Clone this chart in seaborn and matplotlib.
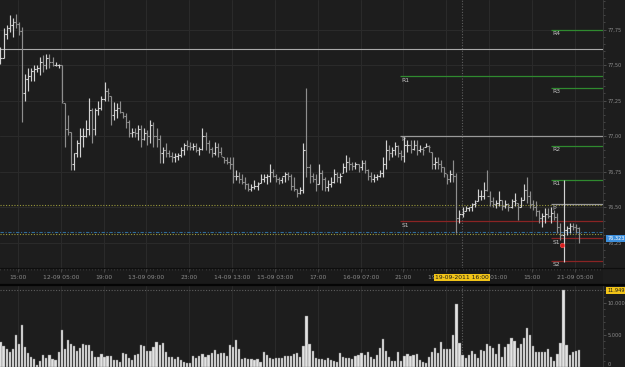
import numpy as np
import pandas as pd
import matplotlib
matplotlib.use("Agg")
import matplotlib.pyplot as plt
import matplotlib.transforms as mtransforms
from matplotlib.lines import Line2D
from matplotlib.ticker import MultipleLocator
import seaborn as sns

# ---------------- data ----------------
highs = [
    77.63, 77.76, 77.78, 77.85, 77.83, 77.86, 77.80, 77.77, 77.44, 77.48,
    77.48, 77.50, 77.50, 77.56, 77.57, 77.58, 77.58, 77.56, 77.52, 77.51,
    77.50, 77.23, 77.15, 77.03, 76.88, 76.97, 77.06, 77.06, 77.11, 77.27,
    77.20, 77.20, 77.25, 77.28, 77.38, 77.34, 77.28, 77.24, 77.23, 77.25,
    77.17, 77.16, 77.11, 77.06, 77.06, 77.08, 77.08, 77.06, 77.04, 77.11,
    77.10, 77.06, 77.01, 76.92, 76.95, 76.90, 76.89, 76.88, 76.88, 76.92,
    76.95, 76.97, 76.96, 76.95, 76.95, 76.92, 77.06, 77.03, 76.97, 76.92,
    76.96, 76.95, 76.92, 76.85, 76.85, 76.85, 76.85, 76.76, 76.75, 76.73,
    76.71, 76.67, 76.66, 76.69, 76.68, 76.73, 76.73, 76.73, 76.80, 76.77,
    76.73, 76.71, 76.71, 76.75, 76.75, 76.73, 76.71, 76.63, 76.64, 76.95,
    77.34, 76.80, 76.74, 76.73, 76.80, 76.76, 76.71, 76.69, 76.71, 76.77,
    76.75, 76.74, 76.81, 76.87, 76.85, 76.82, 76.82, 76.80, 76.83, 76.83,
    76.77, 76.75, 76.73, 76.73, 76.76, 76.85, 76.97, 76.94, 76.92, 76.96,
    76.94, 76.90, 76.99, 76.97, 76.97, 76.97, 76.97, 76.94, 76.92, 76.95,
    76.94, 76.89, 76.85, 76.85, 76.83, 76.78, 76.73, 76.76, 76.83, 76.74,
    76.48, 76.50, 76.51, 76.50, 76.53, 76.55, 76.63, 76.62, 76.68, 76.76,
    76.61, 76.57, 76.55, 76.61, 76.55, 76.55, 76.53, 76.56, 76.60, 76.53,
    76.57, 76.66, 76.71, 76.61, 76.55, 76.54, 76.48, 76.46, 76.49, 76.49,
    76.50, 76.48, 76.46, 76.39, 76.69, 76.37, 76.39, 76.39, 76.38, 76.36,
]
lows = [
    77.51, 77.55, 77.68, 77.73, 77.70, 77.76, 77.71, 77.10, 77.25, 77.32,
    77.39, 77.39, 77.45, 77.43, 77.45, 77.47, 77.48, 77.49, 77.49, 77.48,
    77.23, 76.92, 77.01, 76.76, 76.76, 76.85, 76.85, 76.92, 76.99, 77.01,
    76.95, 77.01, 77.15, 77.18, 77.25, 77.25, 77.08, 77.11, 77.13, 77.16,
    77.13, 77.06, 76.99, 76.99, 76.99, 76.97, 76.92, 76.97, 76.94, 76.95,
    76.92, 76.92, 76.81, 76.81, 76.85, 76.85, 76.82, 76.82, 76.83, 76.85,
    76.87, 76.90, 76.90, 76.90, 76.89, 76.87, 76.90, 76.90, 76.88, 76.85,
    76.87, 76.85, 76.87, 76.81, 76.80, 76.77, 76.67, 76.69, 76.67, 76.66,
    76.63, 76.61, 76.61, 76.63, 76.62, 76.67, 76.68, 76.66, 76.68, 76.71,
    76.68, 76.66, 76.67, 76.68, 76.69, 76.62, 76.61, 76.57, 76.59, 76.60,
    76.71, 76.67, 76.68, 76.61, 76.66, 76.62, 76.61, 76.61, 76.64, 76.67,
    76.68, 76.67, 76.74, 76.75, 76.76, 76.76, 76.77, 76.75, 76.76, 76.74,
    76.69, 76.68, 76.68, 76.69, 76.71, 76.71, 76.77, 76.83, 76.85, 76.87,
    76.85, 76.83, 76.82, 76.89, 76.88, 76.90, 76.87, 76.89, 76.87, 76.92,
    76.89, 76.77, 76.77, 76.77, 76.75, 76.71, 76.66, 76.68, 76.68, 76.32,
    76.39, 76.43, 76.47, 76.47, 76.47, 76.50, 76.54, 76.55, 76.56, 76.61,
    76.51, 76.50, 76.49, 76.51, 76.48, 76.49, 76.47, 76.49, 76.51, 76.41,
    76.50, 76.55, 76.53, 76.49, 76.48, 76.44, 76.39, 76.36, 76.39, 76.42,
    76.39, 76.41, 76.32, 76.27, 76.11, 76.30, 76.32, 76.34, 76.32, 76.25,
]
closes = [
    77.55, 77.72, 77.76, 77.78, 77.80, 77.79, 77.74, 77.30, 77.40, 77.42,
    77.46, 77.47, 77.48, 77.52, 77.50, 77.55, 77.52, 77.50, 77.50, 77.50,
    77.25, 77.05, 77.03, 76.80, 76.88, 76.95, 77.00, 77.00, 77.05, 77.18,
    77.05, 77.18, 77.20, 77.26, 77.32, 77.30, 77.15, 77.18, 77.20, 77.17,
    77.14, 77.10, 77.02, 77.03, 77.02, 77.05, 76.98, 77.02, 77.00, 77.08,
    77.00, 76.98, 76.88, 76.90, 76.88, 76.86, 76.85, 76.86, 76.87, 76.90,
    76.94, 76.93, 76.92, 76.93, 76.90, 76.91, 77.00, 76.95, 76.91, 76.88,
    76.92, 76.89, 76.86, 76.83, 76.82, 76.80, 76.72, 76.72, 76.70, 76.68,
    76.66, 76.63, 76.64, 76.65, 76.66, 76.70, 76.71, 76.72, 76.75, 76.72,
    76.70, 76.69, 76.72, 76.73, 76.72, 76.65, 76.63, 76.60, 76.62, 76.90,
    76.78, 76.72, 76.70, 76.66, 76.74, 76.70, 76.64, 76.66, 76.68, 76.73,
    76.71, 76.72, 76.78, 76.82, 76.80, 76.79, 76.80, 76.78, 76.81, 76.76,
    76.72, 76.70, 76.71, 76.72, 76.74, 76.80, 76.90, 76.88, 76.90, 76.93,
    76.88, 76.86, 76.94, 76.94, 76.91, 76.94, 76.90, 76.91, 76.90, 76.93,
    76.92, 76.80, 76.82, 76.80, 76.78, 76.74, 76.70, 76.73, 76.72, 76.42,
    76.45, 76.46, 76.49, 76.50, 76.52, 76.53, 76.58, 76.58, 76.62, 76.58,
    76.54, 76.52, 76.53, 76.55, 76.51, 76.52, 76.50, 76.54, 76.55, 76.50,
    76.55, 76.62, 76.58, 76.52, 76.50, 76.47, 76.42, 76.44, 76.45, 76.44,
    76.46, 76.43, 76.36, 76.30, 76.34, 76.35, 76.37, 76.36, 76.35, 76.32,
]
volumes = [
    3960, 3280, 2810, 2400, 2760, 5050, 3590, 6550, 3070, 2130,
    1510, 1200, 300, 990, 1820, 1460, 1820, 1200, 1150, 2340,
    5770, 2860, 4160, 3540, 3280, 2550, 2960, 3540, 3430, 3430,
    2550, 1560, 1510, 1980, 1610, 1770, 1720, 1040, 1090, 780,
    2130, 1980, 1460, 1090, 1820, 1980, 3430, 3280, 2500, 2500,
    3170, 3850, 3430, 3690, 2400, 1560, 1560, 1200, 1510, 1150,
    830, 680, 620, 1660, 1400, 1720, 1980, 1510, 1870, 2240,
    2650, 1980, 2130, 2130, 1770, 3380, 3070, 4160, 2760, 1250,
    1400, 1250, 1200, 1150, 1250, 730, 2340, 1920, 1400, 1300,
    1400, 1460, 1400, 1660, 1720, 1770, 1980, 2130, 1560, 3280,
    7960, 3590, 2500, 1350, 1250, 1300, 1090, 1400, 1150, 940,
    830, 2130, 1610, 1400, 1350, 1200, 1660, 1870, 2180, 1820,
    2340, 1510, 1200, 1870, 2910, 4370, 2440, 1610, 990, 940,
    2290, 940, 1660, 2080, 1720, 1870, 1980, 1150, 830, 680,
    1510, 2290, 2910, 2240, 3850, 2810, 2810, 2810, 5040, 9780,
    3800, 1870, 1400, 1870, 2500, 1980, 1400, 2700, 2440, 3640,
    3330, 3020, 1980, 3590, 1560, 3170, 3640, 4470, 4060, 2970,
    3640, 4470, 6030, 4990, 3280, 2290, 2290, 2290, 2290, 2760,
    1560, 990, 1980, 3800, 11949, 3430, 1870, 2400, 2500, 2650,
]

time_labels = ["15:00", "12-09 05:00", "19:00", "13-09 09:00", "23:00",
               "14-09 13:00", "15-09 03:00", "17:00", "16-09 07:00", "21:00",
               "19-09 11:00", "20-09 01:00", "15:00", "21-09 05:00"]
price_ticks = [76.25, 76.50, 76.75, 77.00, 77.25, 77.50, 77.75]
volume_ticks = [0, 5000, 10000]
volume_tick_labels = ["0", "5.000", "10.000"]

prev_pivot_names = ["R1", "P", "S1"]
prev_pivot_values = [77.42, 77.00, 76.40]
pivot_names = ["R4", "R3", "R2", "R1", "P", "S1", "S2"]
pivot_values = [77.75, 77.34, 76.93, 76.69, 76.52, 76.28, 76.12]
reference_level = 77.61
yellow_levels = [76.515, 76.31]
last_price = 76.323
last_price_label = "76,323"
signal_price = 76.23
cursor_label = "19-09-2011 16:00"
cursor_volume = 11949
cursor_volume_label = "11.949"

# ---------------- layout / style constants ----------------
W, H = 625, 367
BG = "#1d1d1d"
GRID = "#2b2b2b"
TXT = "#8c8c8c"
FS = 4.3
FS_R = 3.6
first_tick = 5.7       # bar position of first time label
tick_step = 14         # bars between labels
prev_pivot_start = 130.6
pivot_start = 179.9
cursor_bar = 150.7
signal_bar = 183.5
XLIM = (-0.16, 196.9)

sns.set_theme(style="dark", rc={
    "axes.facecolor": BG, "figure.facecolor": BG, "savefig.facecolor": BG,
    "grid.color": GRID, "axes.edgecolor": BG,
})
plt.rcParams["font.family"] = ["DejaVu Sans"]

fig = plt.figure(figsize=(W / 100, H / 100), dpi=100)
pw = 603 / W
ax_p = fig.add_axes([0, (H - 268) / H, pw, 268 / H])
ax_b = fig.add_axes([0, (H - 284) / H, pw, 16 / H])
ax_v = fig.add_axes([0, 0, pw, 82 / H])

n = len(closes)
k = np.arange(n)
h = np.array(highs); lo = np.array(lows); c = np.array(closes)
o = np.clip(np.r_[c[0], c[:-1]], lo, h)
up = c >= o
cols = np.where(up, "#d2d2d2", "#8e8e8e")
tick_pos = [first_tick + tick_step * j for j in range(len(time_labels))]

# ---------------- price pane ----------------
ax_p.set_xlim(*XLIM)
ax_p.set_ylim(76.071, 77.958)
ax_p.set_xticks(tick_pos)
ax_p.set_yticks(price_ticks)
ax_p.grid(True, color=GRID, lw=0.7)
ax_p.set_axisbelow(True)

ax_p.axhline(reference_level, color="#a9a9a9", lw=0.8, zorder=2)
for yl in yellow_levels:
    ax_p.axhline(yl, color="#9a9a3c", lw=0.8, ls=(0, (1, 1.5)), zorder=2)
ax_p.axhline(last_price, color="#2f6a9a", lw=0.8, ls=(0, (3, 1.5, 1, 1.5)), zorder=2)

def pivot_color(name):
    if name.startswith("R"):
        return "#2f8a2f"
    if name.startswith("S"):
        return "#8a2424"
    return "#9a9a9a"

for name, val in zip(prev_pivot_names, prev_pivot_values):
    ax_p.hlines(val, prev_pivot_start, XLIM[1], color=pivot_color(name), lw=0.9, zorder=2)
    ax_p.annotate(name, (prev_pivot_start, val), xytext=(1.2, -1.0), textcoords="offset points",
                  ha="left", va="top", fontsize=FS, color="#c4c4c4", zorder=5)
for name, val in zip(pivot_names, pivot_values):
    ax_p.hlines(val, pivot_start, XLIM[1], color=pivot_color(name), lw=0.9, zorder=2)
    ax_p.annotate(name, (pivot_start, val), xytext=(1.2, -1.0), textcoords="offset points",
                  ha="left", va="top", fontsize=FS, color="#c4c4c4", zorder=5)

# OHLC bars
ax_p.vlines(k, lo, h, colors=cols, lw=0.85, zorder=4)
ax_p.hlines(o, k - 0.5, k, colors=cols, lw=0.8, zorder=4)
ax_p.hlines(c, k, k + 0.5, colors=cols, lw=0.8, zorder=4)

ax_p.axvline(cursor_bar, color="#5e5e5e", lw=0.8, ls=(0, (1, 1.5)), zorder=3)
ax_p.scatter([signal_bar], [signal_price], s=10, color="#d81e1e", edgecolor="#ff5a5a",
             linewidth=0.4, zorder=6)

ax_p.yaxis.tick_right()
ax_p.set_yticklabels([f"{v:.2f}".replace(".", ",") for v in price_ticks])
ax_p.yaxis.set_minor_locator(MultipleLocator(0.05))
ax_p.tick_params(axis="y", which="major", right=True, left=False, length=2.2, width=0.6,
                 color="#555555", labelcolor=TXT, labelsize=FS_R, pad=1.0)
ax_p.tick_params(axis="y", which="minor", right=True, left=False, length=1.2, width=0.5,
                 color="#555555")
ax_p.tick_params(axis="x", length=0, labelbottom=False)
for s in ax_p.spines.values():
    s.set_visible(False)
ax_p.spines["right"].set_visible(True)
ax_p.spines["right"].set_color("#3c3c3c")
ax_p.spines["right"].set_linewidth(0.6)

ax_p.annotate(last_price_label, (1.0, last_price), xycoords=("axes fraction", "data"),
              xytext=(3.0, -4.5), textcoords="offset points", ha="left", va="center",
              fontsize=FS_R, color="white", annotation_clip=False, zorder=8,
              bbox=dict(boxstyle="square,pad=0.2", fc="#3d8fdc", ec="none"))

# ---------------- time band ----------------
ax_b.set_facecolor("#1a1a1a")
ax_b.set_xlim(*XLIM)
ax_b.set_ylim(0, 1)
ax_b.set_yticks([])
ax_b.xaxis.tick_top()
ax_b.set_xticks(tick_pos)
ax_b.set_xticklabels([])
ax_b.xaxis.set_minor_locator(MultipleLocator(1))
ax_b.tick_params(axis="x", which="major", top=True, bottom=False, length=3, width=0.5,
                 color="#555555", direction="in")
ax_b.tick_params(axis="x", which="minor", top=True, bottom=False, length=1.4, width=0.4,
                 color="#4a4a4a", direction="in")
for s in ax_b.spines.values():
    s.set_visible(False)
btrans = mtransforms.blended_transform_factory(ax_b.transData, ax_b.transAxes)
for pos, lab in zip(tick_pos, time_labels):
    ax_b.text(pos, 0.42, lab, transform=btrans, ha="center", va="center",
              fontsize=FS, color=TXT, zorder=3)
ax_b.text(cursor_bar, 0.42, cursor_label, transform=btrans, ha="center", va="center",
          fontsize=FS, color="#1a1a1a", zorder=6,
          bbox=dict(boxstyle="square,pad=0.2", fc="#f2c418", ec="none"))

# ---------------- volume pane ----------------
vol_df = pd.DataFrame({"bar": k, "volume": volumes})
sns.barplot(data=vol_df, x="bar", y="volume", native_scale=True, color="#e2e2e2",
            saturation=1, edgecolor="#7a7a7a", linewidth=0.3, width=0.72,
            errorbar=None, ax=ax_v, zorder=3)
ax_v.set_xlim(*XLIM)
ax_v.set_ylim(0, 12800)
ax_v.set_xlabel(""); ax_v.set_ylabel("")
ax_v.set_xticks(tick_pos)
ax_v.grid(True, axis="x", color=GRID, lw=0.7)
ax_v.set_axisbelow(True)
ax_v.tick_params(axis="x", length=0, labelbottom=False)
ax_v.yaxis.tick_right()
ax_v.set_yticks(volume_ticks)
ax_v.set_yticklabels(volume_tick_labels)
ax_v.yaxis.set_minor_locator(MultipleLocator(1000))
ax_v.tick_params(axis="y", which="major", right=True, left=False, length=2.2, width=0.6,
                 color="#555555", labelcolor=TXT, labelsize=FS_R, pad=1.0)
ax_v.tick_params(axis="y", which="minor", right=True, left=False, length=1.2, width=0.5,
                 color="#555555")
ax_v.get_yticklabels()[0].set_verticalalignment("bottom")
for s in ax_v.spines.values():
    s.set_visible(False)
ax_v.spines["right"].set_visible(True)
ax_v.spines["right"].set_color("#3c3c3c")
ax_v.spines["right"].set_linewidth(0.6)
ax_v.axvline(cursor_bar, color="#5e5e5e", lw=0.8, ls=(0, (1, 1.5)), zorder=2)
ax_v.axhline(cursor_volume, color="#5e5e5e", lw=0.8, ls=(0, (1, 1.5)), zorder=2)
ax_v.annotate(cursor_volume_label, (1.0, cursor_volume), xycoords=("axes fraction", "data"),
              xytext=(3.0, 0), textcoords="offset points", ha="left", va="center",
              fontsize=FS_R, color="#1a1a1a", annotation_clip=False, zorder=8,
              bbox=dict(boxstyle="square,pad=0.2", fc="#f2c418", ec="none"))

# separators
fig.add_artist(Line2D([0, 1], [(H - 268) / H] * 2, color="#0e0e0e", lw=0.9))
fig.add_artist(Line2D([0, 1], [(H - 284.5) / H] * 2, color="#050505", lw=1.6))

fig.savefig("out.png", dpi=100, facecolor=BG)
